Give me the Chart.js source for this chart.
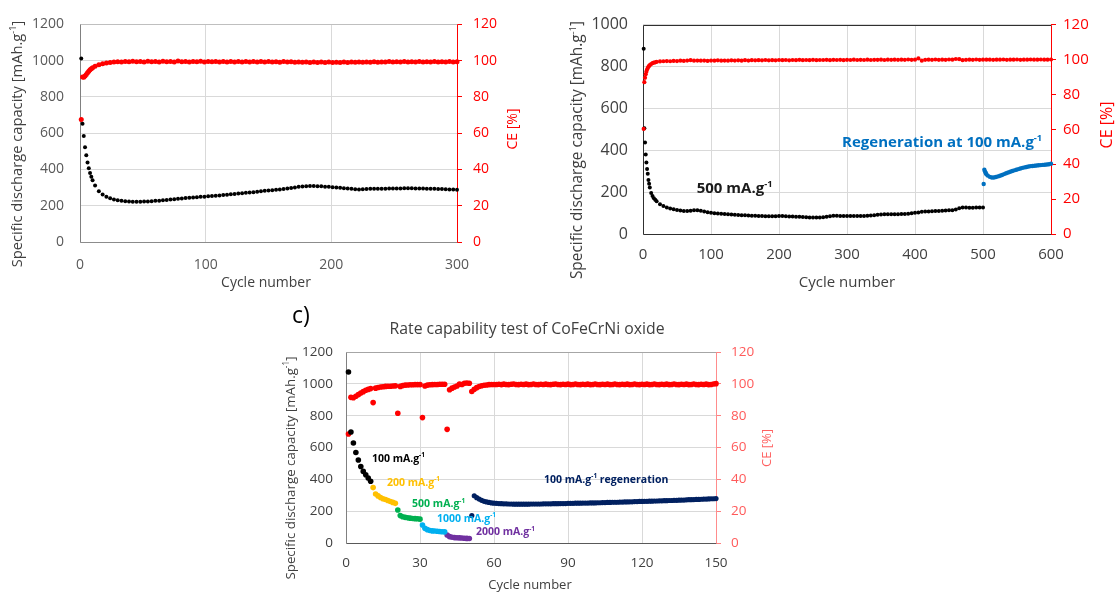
<!DOCTYPE html>
<html><head><meta charset="utf-8">
<script src="https://cdn.jsdelivr.net/npm/chart.js@4.4.1/dist/chart.umd.min.js"></script>
<style>
html,body{margin:0;padding:0;background:#fff;}
body{width:1119px;height:593px;position:relative;overflow:hidden;}
canvas{position:absolute;}
#cA{left:0;top:0;} #cB{left:560px;top:0;} #cC{left:270px;top:300px;}
</style></head><body>
<canvas id="cA" width="560" height="300"></canvas>
<canvas id="cB" width="559" height="300"></canvas>
<canvas id="cC" width="560" height="293"></canvas>
<script>
// ---------------- DATA ----------------
// Chart a) : 300 cycles
const cycA = [1,2,3,4,5,6,7,8,9,10,
 12,15,18,21,24,27,30,33,36,39,
 42,45,48,51,54,57,60,63,66,69,
 72,75,78,81,84,87,90,93,96,99,
 102,105,108,111,114,117,120,123,126,129,
 132,135,138,141,144,147,150,153,156,159,
 162,165,168,171,174,177,180,183,186,189,
 192,195,198,201,204,207,210,213,216,219,
 222,225,228,231,234,237,240,243,246,249,
 252,255,258,261,264,267,270,273,276,279,
 282,285,288,291,294,297,300];
const capA = [1012,652,585,523,478,438,407,381,360,341,
 312,280,262,250,241,235,230,227,225,223,
 222,222,222,223,224,225,227,228,230,232,
 234,236,238,240,242,244,246,247,249,250,
 252,253,255,257,259,261,263,265,267,269,
 271,273,275,277,280,282,284,286,288,290,
 292,295,298,301,304,306,308,309,309,308,
 307,305,304,302,301,299,297,295,293,291,
 290,291,292,293,293,294,294,294,295,295,
 295,295,296,296,296,295,295,295,294,294,
 293,292,292,291,290,289,288];
const ceA = [67.5,91.0,90.8,91.5,92.4,93.3,94.2,95.0,95.6,96.1,
 96.9,97.7,98.3,98.7,99.0,99.2,99.4,99.3,99.6,99.4,
 99.7,99.4,99.6,99.3,99.7,99.4,99.6,99.3,99.7,99.4,
 99.5,99.3,99.8,99.4,99.6,99.3,99.6,99.4,99.7,99.3,
 99.6,99.4,99.6,99.2,99.6,99.3,99.5,99.2,99.6,99.3,
 99.5,99.2,99.5,99.3,99.6,99.2,99.5,99.2,99.4,99.1,
 99.5,99.2,99.4,99.1,99.3,99.1,99.3,99.0,99.2,99.0,
 99.2,99.0,99.2,99.0,99.1,99.0,99.2,99.0,99.2,99.1,
 99.3,99.1,99.3,99.1,99.4,99.1,99.3,99.2,99.5,99.2,
 99.4,99.2,99.5,99.2,99.4,99.2,99.5,99.2,99.4,99.3,
 99.6,99.3,99.4,99.3,99.5,99.2,99.4];

// Chart b) : 500 cycles at 500 mA/g + regeneration at 100 mA/g
const cycB = [1,2,3,4,5,6,7,8,9,10,
 12,14,16,18,20,25,30,35,40,45,
 50,55,60,65,70,75,80,85,90,95,
 100,105,110,115,120,125,130,135,140,145,
 150,155,160,165,170,175,180,185,190,195,
 200,205,210,215,220,225,230,235,240,245,
 250,255,260,265,270,275,280,285,290,295,
 300,305,310,315,320,325,330,335,340,345,
 350,355,360,365,370,375,380,385,390,395,
 400,405,410,415,420,425,430,435,440,445,
 450,455,460,465,470,475,480,485,490,495,
 500];
const capB = [885,505,437,380,341,310,288,258,240,222,
 196,182,171,163,156,142,134,127,122,118,
 115,112,110,110,111,113,113,111,107,104,
 101,99,98,97,96,94,93,92,91,90,
 89,88,87,87,86,86,85,85,85,85,
 86,86,85,84,83,82,82,81,80,79,
 79,79,79,80,82,85,87,87,86,86,
 86,86,86,86,86,86,87,88,90,92,
 93,94,94,94,94,94,95,96,97,99,
 101,103,106,107,108,109,110,110,111,112,
 113,114,117,123,127,126,125,125,126,126,
 126];
const cycBRegen = [501,502,503,504,505,507,510,513,516,519,
 522,525,528,531,534,537,540,543,546,549,
 552,555,558,561,564,567,570,573,576,579,
 582,585,588,591,594,597,600];
const capBRegen = [239,307,298,291,285,279,273,270,270,272,
 275,278,282,286,290,294,297,301,304,307,
 310,313,316,318,320,322,324,325,326,327,
 328,329,330,331,332,333,336];
const cycBce = [1,2,3,4,5,6,7,8,9,10,
 12,14,16,18,20,25,30,35,40,45,
 50,55,60,65,70,75,80,85,90,95,
 100,105,110,115,120,125,130,135,140,145,
 150,155,160,165,170,175,180,185,190,195,
 200,205,210,215,220,225,230,235,240,245,
 250,255,260,265,270,275,280,285,290,295,
 300,305,310,315,320,325,330,335,340,345,
 350,355,360,365,370,375,380,385,390,395,
 400,405,410,415,420,425,430,435,440,445,
 450,455,460,465,470,475,480,485,490,495,
 500,505,510,515,520,525,530,535,540,545,
 550,555,560,565,570,575,580,585,590,595,
 600];
const ceB = [60.2,87.0,89.5,91.5,93.0,94.2,95.1,95.8,96.3,96.8,
 97.4,97.9,98.2,98.4,98.6,98.9,99.0,99.1,99.0,99.2,
 99.1,99.3,99.2,99.4,99.6,99.3,99.4,99.3,99.4,99.2,
 99.4,99.3,99.5,99.3,99.4,99.3,99.5,99.4,99.5,99.3,
 99.6,99.4,99.6,99.5,99.6,99.5,99.7,99.5,99.6,99.5,
 99.7,99.6,99.7,99.5,99.7,99.6,99.8,99.6,99.7,99.6,
 99.8,99.6,99.7,99.7,99.8,99.6,99.8,99.7,99.8,99.6,
 99.8,99.7,99.9,99.7,99.8,99.7,99.9,99.7,99.8,99.8,
 99.9,99.7,99.9,99.8,99.9,99.8,99.9,99.8,100.0,99.8,
 99.9,100.6,99.3,99.8,99.9,99.8,100.0,99.8,99.9,99.8,
 100.0,99.9,100.3,100.2,99.6,99.8,99.9,99.8,100.0,99.8,
 99.9,99.9,99.9,99.8,99.9,99.9,100.0,99.8,99.9,99.9,
 100.0,99.8,99.9,99.9,100.0,99.9,99.9,100.0,99.9,99.9,
 100.0];

// Chart c) : rate capability, 150 cycles
const cycC = [1,2,3,4,5,6,7,8,9,10,11,12,13,14,15,16,17,18,19,20,
 21,22,23,24,25,26,27,28,29,30,31,32,33,34,35,36,37,38,39,40,
 41,42,43,44,45,46,47,48,49,50,51,52,53,54,55,56,57,58,59,60,
 61,62,63,64,65,66,67,68,69,70,71,72,73,74,75,76,77,78,79,80,
 81,82,83,84,85,86,87,88,89,90,91,92,93,94,95,96,97,98,99,100,
 101,102,103,104,105,106,107,108,109,110,111,112,113,114,115,116,117,118,119,120,
 121,122,123,124,125,126,127,128,129,130,131,132,133,134,135,136,137,138,139,140,
 141,142,143,144,145,146,147,148,149,150];
const capC = [1074,697,628,569,521,481,450,429,408,388,
 348,308,296,286,278,273,267,261,255,249,
 207,172,165,161,158,156,154,153,152,150,
 113,92,84,79,76,75,74,72,71,70,
 50,40,36,34,33,32,31,30,29,28,
 172,297,285,276,268,262,258,255,252,250,
 249,248,247,246,246,245,245,244,244,244,
 244,244,244,244,245,245,245,245,245,246,
 246,246,246,247,247,247,248,248,248,249,
 249,249,250,250,250,251,251,251,252,252,
 252,253,253,254,254,255,255,256,256,256,
 257,257,258,258,259,259,260,260,261,261,
 262,262,263,263,264,264,265,265,266,266,
 267,267,268,268,269,270,270,271,272,272,
 273,274,274,275,276,276,277,278,278,279];
const ceC = [68.5,91.5,91.3,92.2,93.2,94.2,95.1,96.0,96.5,97.0,
 88.2,97.3,97.7,98.0,98.2,98.4,98.5,98.5,98.6,98.7,
 81.5,98.4,98.9,99.2,99.3,99.4,99.4,99.5,99.5,99.5,
 78.8,98.6,99.2,99.4,99.5,99.6,99.6,99.7,99.7,99.7,
 71.4,96.3,97.3,98.0,98.6,99.8,99.6,100.3,100.5,100.4,
 95.2,96.6,97.6,98.3,98.8,99.1,99.3,99.5,99.6,99.6,
 99.6,99.7,99.5,99.8,99.6,99.5,99.7,99.9,99.6,99.5,
 99.7,99.6,99.8,99.5,99.6,99.9,99.6,99.5,99.7,99.6,
 99.8,99.6,99.5,99.7,99.9,99.6,99.5,99.7,99.6,99.8,
 99.5,99.6,99.9,99.6,99.5,99.7,99.6,99.8,99.5,99.6,
 99.9,99.6,99.5,99.7,99.6,99.8,99.5,99.6,99.9,99.6,
 99.5,99.7,99.6,99.8,99.5,99.6,99.9,99.6,99.5,99.7,
 99.6,99.8,99.5,99.6,99.9,99.6,99.5,99.7,99.6,99.8,
 99.5,99.6,99.9,99.6,99.5,99.7,99.6,99.8,99.5,99.6,
 99.9,99.6,99.5,99.7,99.6,99.8,99.5,99.6,99.9,100.1];
const rateSegEnd = [10, 20, 30, 40, 50, 150];
const rateLabels = ['100 mA.g^{-1}', '200 mA.g^{-1}', '500 mA.g^{-1}', '1000 mA.g^{-1}', '2000 mA.g^{-1}', '100 mA.g^{-1} regeneration'];

// Tick labels
const xTicksA = [0, 100, 200, 300];
const yTicksA = [0, 200, 400, 600, 800, 1000, 1200];
const xTicksB = [0, 100, 200, 300, 400, 500, 600];
const yTicksB = [0, 200, 400, 600, 800, 1000];
const xTicksC = [0, 30, 60, 90, 120, 150];
const yTicksC = [0, 200, 400, 600, 800, 1000, 1200];
const ceTicks = [0, 20, 40, 60, 80, 100, 120];

// ---------------- HELPERS ----------------
const FAMILY = '"Open Sans", Lato, "DejaVu Sans", sans-serif';
const GRID = '#d9d9d9';

function parseRich(s) {
  const parts = []; const re = /\^\{([^}]*)\}/g; let last = 0, m;
  while ((m = re.exec(s))) {
    if (m.index > last) parts.push({t: s.slice(last, m.index)});
    parts.push({t: m[1], sup: true}); last = re.lastIndex;
  }
  if (last < s.length) parts.push({t: s.slice(last)});
  return parts;
}
function drawRich(ctx, text, x, y, o) {
  const parts = parseRich(text);
  const w = o.weight || 'normal';
  const fBase = `${w} ${o.size}px ${FAMILY}`;
  const fSup = `${w} ${(o.size * 0.62).toFixed(1)}px ${FAMILY}`;
  ctx.save();
  ctx.translate(x, y);
  if (o.rotate) ctx.rotate(o.rotate);
  let total = 0;
  const ws = parts.map(p => { ctx.font = p.sup ? fSup : fBase; const ww = ctx.measureText(p.t).width; total += ww; return ww; });
  let cx = o.align === 'center' ? -total / 2 : (o.align === 'right' ? -total : 0);
  ctx.textBaseline = 'middle'; ctx.textAlign = 'left'; ctx.fillStyle = o.color;
  parts.forEach((p, i) => { ctx.font = p.sup ? fSup : fBase; ctx.fillText(p.t, cx, p.sup ? -o.size * 0.32 : 0); cx += ws[i]; });
  ctx.restore();
}
function decorPlugin(name, frame, texts) {
  return {
    id: 'decor' + name,
    beforeDatasetsDraw(chart) {
      const {ctx, chartArea: a} = chart;
      const L = Math.round(a.left) + 0.5, R = Math.round(a.right) + 0.5, T = Math.round(a.top) + 0.5, B = Math.round(a.bottom) + 0.5;
      ctx.save(); ctx.lineWidth = 1;
      const seg = (x1, y1, x2, y2, c) => { ctx.strokeStyle = c; ctx.beginPath(); ctx.moveTo(x1, y1); ctx.lineTo(x2, y2); ctx.stroke(); };
      seg(L, T, R, T, frame.top);
      seg(L, B, R, B, frame.bottom);
      seg(L, T, L, B, frame.left);
      seg(R, T, R, B, frame.right);
      ctx.restore();
    },
    afterDraw(chart) {
      const ctx = chart.ctx;
      texts.forEach(t => {
        let x = t.x, y = t.y;
        if (t.data) { x = chart.scales.x.getPixelForValue(t.x); y = chart.scales.y.getPixelForValue(t.y); }
        drawRich(ctx, t.text, x, y, t);
      });
    }
  };
}
function pts(xs, ys) { return xs.map((c, i) => ({x: c, y: ys[i]})); }
function scalesFor(o) {
  const tk = arr => (s => { s.ticks = arr.map(v => ({value: v})); });
  return {
    x: {type: 'linear', min: o.xTicks[0], max: o.xTicks[o.xTicks.length - 1],
        afterBuildTicks: tk(o.xTicks), afterFit: s => { s.height = o.xH; },
        grid: {color: GRID, drawTicks: false, lineWidth: 1}, border: {display: false},
        ticks: {font: {family: FAMILY, size: o.xFont}, color: o.tickColor, padding: o.xPad, maxRotation: 0, autoSkip: false, callback: v => String(v)}},
    y: {type: 'linear', position: 'left', min: 0, max: o.yTicks[o.yTicks.length - 1],
        afterBuildTicks: tk(o.yTicks), afterFit: s => { s.width = o.yW; },
        grid: {color: GRID, drawTicks: false, lineWidth: 1}, border: {display: false},
        ticks: {font: {family: FAMILY, size: o.yFont}, color: o.tickColor, padding: o.yPad, autoSkip: false, callback: v => String(v)}},
    y2: {type: 'linear', position: 'right', min: 0, max: 120,
        afterBuildTicks: tk(ceTicks), afterFit: s => { s.width = o.y2W; },
        grid: {drawOnChartArea: false, drawTicks: true, tickLength: 5, color: o.ceAxis, lineWidth: 1}, border: {display: false},
        ticks: {font: {family: FAMILY, size: o.y2Font}, color: o.ceTick, padding: o.y2Pad, autoSkip: false, callback: v => String(v)}}
  };
}
function baseOptions(scales, top) {
  return {
    responsive: false, animation: false, devicePixelRatio: 1, events: [],
    layout: {padding: {top: top, left: 0, right: 0, bottom: 0}},
    plugins: {legend: {display: false}, tooltip: {enabled: false}, title: {display: false}},
    scales: scales
  };
}
function dot(data, color, r, axis) {
  return {data: data, yAxisID: axis, showLine: false, backgroundColor: color, borderColor: color,
          pointRadius: r, pointBorderWidth: 0, pointHoverRadius: r, clip: false};
}
const HALF = -Math.PI / 2;

// ---------------- CHART A ----------------
new Chart(document.getElementById('cA'), {
  type: 'scatter',
  data: {datasets: [
    dot(pts(cycA, capA), '#000000', 2.0, 'y'),
    dot(pts(cycA, ceA), '#ff0000', 2.5, 'y2')
  ]},
  options: baseOptions(scalesFor({xTicks: xTicksA, yTicks: yTicksA, xH: 58, yW: 80, y2W: 103,
    xFont: 14, yFont: 14, y2Font: 14, xPad: 15, yPad: 16, y2Pad: 11,
    tickColor: '#595959', ceAxis: '#ff0000', ceTick: '#ff0000'}), 16),
  plugins: [decorPlugin('A', {top: '#bfbfbf', bottom: '#8c8c8c', left: '#808080', right: '#ff0000'}, [
    {text: 'Specific discharge capacity [mAh.g^{-1}]', x: 18, y: 144, size: 14.7, color: '#404040', align: 'center', rotate: HALF},
    {text: 'Cycle number', x: 266, y: 283, size: 14, color: '#404040', align: 'center'},
    {text: 'CE [%]', x: 513, y: 129, size: 14, color: '#ff0000', align: 'center', rotate: HALF}
  ])]
});

// ---------------- CHART B ----------------
new Chart(document.getElementById('cB'), {
  type: 'scatter',
  data: {datasets: [
    dot(pts(cycBce, ceB), '#ff0000', 2.1, 'y2'),
    dot(pts(cycB, capB), '#000000', 2.0, 'y'),
    dot(pts(cycBRegen, capBRegen), '#0070c0', 2.2, 'y')
  ]},
  options: baseOptions(scalesFor({xTicks: xTicksB, yTicks: yTicksB, xH: 66, yW: 83, y2W: 68,
    xFont: 15, yFont: 16, y2Font: 15, xPad: 12, yPad: 15, y2Pad: 7,
    tickColor: '#404040', ceAxis: '#ff0000', ceTick: '#ff0000'}), 15),
  plugins: [decorPlugin('B', {top: '#303030', bottom: '#303030', left: '#303030', right: '#ff0000'}, [
    {text: 'Specific discharge capacity [mAh.g^{-1}]', x: 18, y: 150, size: 15.4, color: '#404040', align: 'center', rotate: HALF},
    {text: 'Cycle number', x: 287, y: 283, size: 15, color: '#404040', align: 'center'},
    {text: 'CE [%]', x: 547, y: 125, size: 16, color: '#ff0000', align: 'center', rotate: HALF},
    {text: '500 mA.g^{-1}', x: 79, y: 215, data: true, size: 15, weight: 'bold', color: '#1a1a1a', align: 'left'},
    {text: 'Regeneration at 100 mA.g^{-1}', x: 587, y: 434, data: true, size: 15, weight: 'bold', color: '#0070c0', align: 'right'}
  ])]
});

// ---------------- CHART C ----------------
const rateColors = ['#000000', '#ffc000', '#00b050', '#00b0f0', '#7030a0', '#002060'];
const rateLabelPos = [[10.5, 528], [16.6, 377], [26.8, 245], [36.9, 151], [52.7, 69], [80.3, 396]];
const dsC = [];
let segStart = 0;
rateSegEnd.forEach((e, k) => {
  dsC.push(dot(pts(cycC.slice(segStart, e), capC.slice(segStart, e)), rateColors[k], k === 5 ? 2.6 : 2.8, 'y'));
  segStart = e;
});
dsC.push(dot(pts(cycC, ceC), '#ff0000', 2.8, 'y2'));
const textsC = [
  {text: 'c)', x: 22, y: 16, size: 23, color: '#000000', align: 'left'},
  {text: 'Rate capability test of CoFeCrNi oxide', x: 257, y: 29, size: 15.8, color: '#404040', align: 'center'},
  {text: 'Specific discharge capacity [mAh.g^{-1}]', x: 21, y: 168, size: 13.3, color: '#404040', align: 'center', rotate: HALF},
  {text: 'Cycle number', x: 260, y: 285, size: 13, color: '#404040', align: 'center'},
  {text: 'CE [%]', x: 497, y: 148, size: 13, color: '#ff6060', align: 'center', rotate: HALF}
];
rateLabels.forEach((t, k) => textsC.push({text: t, x: rateLabelPos[k][0], y: rateLabelPos[k][1], data: true,
  size: 10.5, weight: 'bold', color: rateColors[k], align: 'left'}));
new Chart(document.getElementById('cC'), {
  type: 'scatter',
  data: {datasets: dsC},
  options: baseOptions(scalesFor({xTicks: xTicksC, yTicks: yTicksC, xH: 50, yW: 76, y2W: 114,
    xFont: 13.5, yFont: 13.5, y2Font: 13.5, xPad: 12, yPad: 13, y2Pad: 10,
    tickColor: '#404040', ceAxis: '#ff8080', ceTick: '#ff5a5a'}), 52),
  plugins: [decorPlugin('C', {top: '#a6a6a6', bottom: '#595959', left: '#808080', right: '#ff8c8c'}, textsC)]
});
</script>
</body></html>
